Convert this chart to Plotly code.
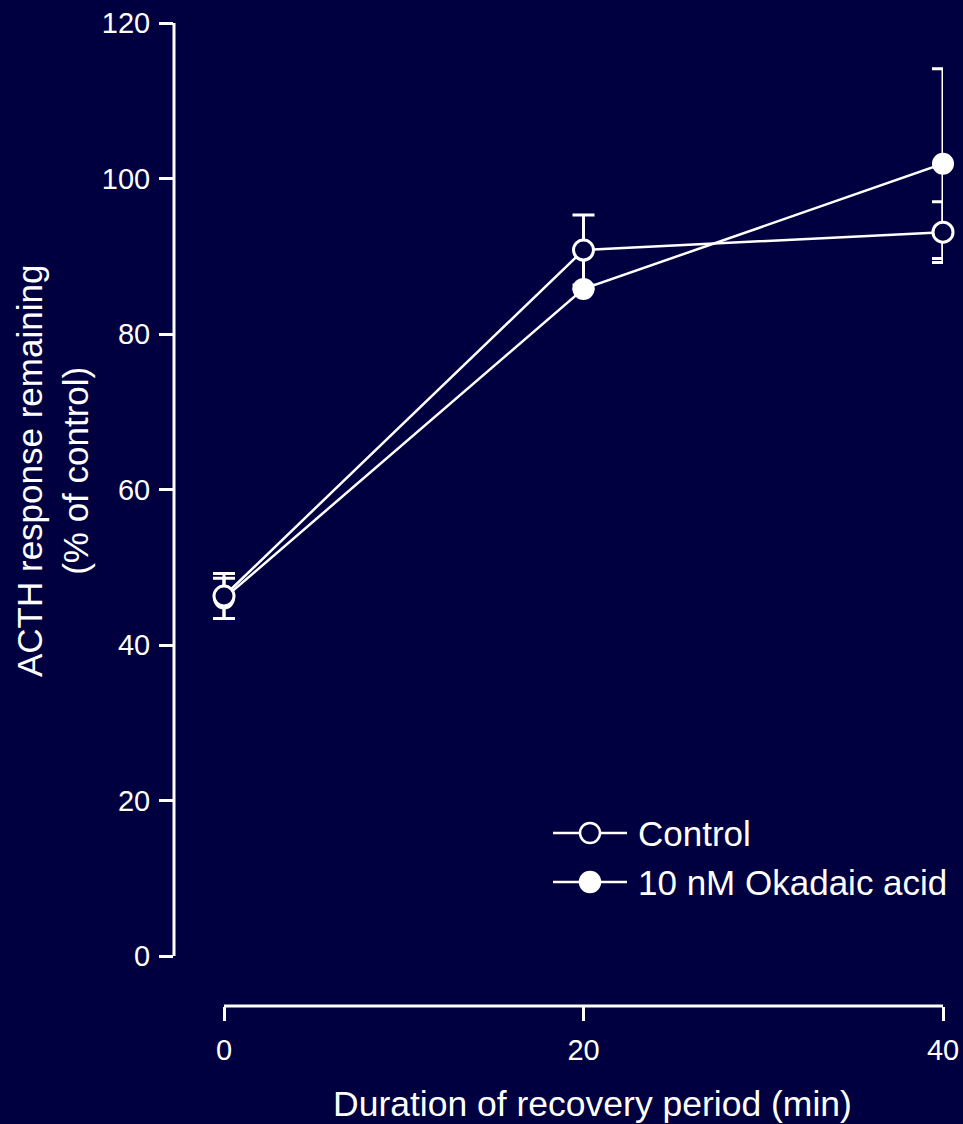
import plotly.graph_objects as go

# ---- data ----
durations = [0, 20, 40]
control_vals = [46.3, 90.8, 93.1]
control_err = [2.9, 4.5, 3.9]
okadaic_vals = [46.0, 85.8, 101.9]
okadaic_err = [2.6, 0.0, 12.2]
series_names = ["Control", "10 nM Okadaic acid"]
y_ticks = [0, 20, 40, 60, 80, 100, 120]
x_ticks = [0, 20, 40]

BG = "#000040"
FG = "white"
FONT = "Liberation Sans, Arial, sans-serif"

W, H = 963, 1124
L, R, T, B = 174, 20, 23, 118   # plot area: x 174..943, y 23..1006
plot_w = W - L - R
plot_h = H - T - B
x_px_per_unit = (943 - 224) / 40.0
x_min = -50 / x_px_per_unit
y_px_per_unit = (956 - 23) / 120.0
y_min = -50 / y_px_per_unit

fig = go.Figure()

fig.add_trace(go.Scatter(
    x=durations, y=okadaic_vals, mode="lines+markers", name=series_names[1],
    line=dict(color=FG, width=2.5),
    marker=dict(symbol="circle", size=20, color=FG, line=dict(color=FG, width=2)),
    error_y=dict(type="data", array=okadaic_err, color=FG, thickness=3, width=11),
    cliponaxis=False, showlegend=False,
))
fig.add_trace(go.Scatter(
    x=durations, y=control_vals, mode="lines+markers", name=series_names[0],
    line=dict(color=FG, width=2.5),
    marker=dict(symbol="circle", size=20, color=BG, line=dict(color=FG, width=3)),
    error_y=dict(type="data", array=control_err, color=FG, thickness=3, width=11),
    cliponaxis=False, showlegend=False,
))

# axis lines (detached, only spanning the data range)
fig.add_shape(type="line", xref="paper", yref="y", x0=0, x1=0, y0=0, y1=120,
              line=dict(color=FG, width=3))
fig.add_shape(type="line", xref="x", yref="paper", x0=0, x1=40, y0=0, y1=0,
              line=dict(color=FG, width=3))

# legend drawn manually
leg_x0, leg_x1 = 553, 627
leg_rows = [833, 882]
for i, (name, yy) in enumerate(zip(series_names, leg_rows)):
    yp = 1 - (yy - T) / plot_h
    xa = (leg_x0 - L) / plot_w
    xb = (leg_x1 - L) / plot_w
    xm = ((leg_x0 + leg_x1) / 2 - L) / plot_w
    fig.add_shape(type="line", xref="paper", yref="paper", x0=xa, x1=xb, y0=yp, y1=yp,
                  line=dict(color=FG, width=2.5))
    fig.add_shape(type="circle", xref="paper", yref="paper", xsizemode="pixel", ysizemode="pixel",
                  xanchor=xm, yanchor=yp, x0=-10, x1=10, y0=-10, y1=10,
                  fillcolor=(BG if i == 0 else FG), line=dict(color=FG, width=2.5))
    fig.add_annotation(xref="paper", yref="paper", x=(636 - L) / plot_w, y=yp,
                       text=name, showarrow=False, xanchor="left", yanchor="middle",
                       font=dict(family=FONT, size=35, color=FG))

# axis titles
fig.add_annotation(xref="paper", yref="paper", x=(592 - L) / plot_w, y=1 - (1104 - T) / plot_h,
                   text="Duration of recovery period (min)", showarrow=False,
                   xanchor="center", yanchor="middle",
                   font=dict(family=FONT, size=35.5, color=FG))
fig.add_annotation(xref="paper", yref="paper", x=(52 - L) / plot_w, y=1 - (471 - T) / plot_h,
                   text="ACTH response remaining<br>(% of control)", showarrow=False,
                   textangle=-90, xanchor="center", yanchor="middle",
                   font=dict(family=FONT, size=35, color=FG))

fig.update_layout(
    width=W, height=H,
    margin=dict(l=L, r=R, t=T, b=B, pad=0, autoexpand=False),
    paper_bgcolor=BG, plot_bgcolor=BG,
    showlegend=False,
    xaxis=dict(range=[x_min, 40], tickvals=x_ticks, ticktext=[str(v) for v in x_ticks],
               ticks="outside", ticklen=14, tickwidth=3, tickcolor=FG,
               ticklabelstandoff=4, automargin=False,
               showgrid=False, zeroline=False, showline=False,
               tickfont=dict(family=FONT, size=29, color=FG)),
    yaxis=dict(range=[y_min, 120], tickvals=y_ticks, ticktext=[str(v) for v in y_ticks],
               ticks="outside", ticklen=14, tickwidth=3, tickcolor=FG,
               ticklabelstandoff=3, automargin=False,
               showgrid=False, zeroline=False, showline=False,
               tickfont=dict(family=FONT, size=29, color=FG)),
)

fig.write_html("out.html", config={"displayModeBar": False, "responsive": False},
               post_script="document.body.style.margin='0';document.body.style.background='#000040';")
